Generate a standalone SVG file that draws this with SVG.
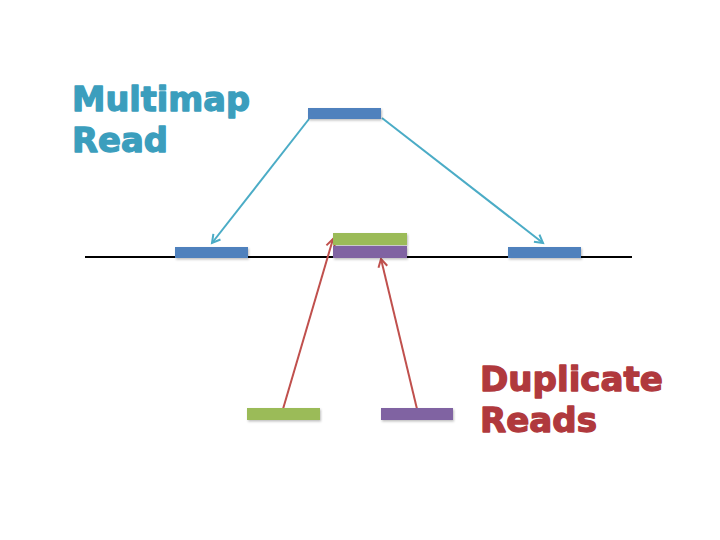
<svg xmlns="http://www.w3.org/2000/svg" width="720" height="540" viewBox="0 0 720 540">
<style>
.lbl{font-family:"DejaVu Sans","Verdana",sans-serif;font-weight:bold;font-size:33px;stroke-width:1.3;stroke-linejoin:round}
.tb{fill:#3b9ebd;stroke:#3b9ebd}
.tr{fill:#b0393d;stroke:#b0393d}
.blue{fill:#4f81bd}
.green{fill:#9bbb59}
.purple{fill:#8064a2}
.ca{fill:none;stroke:#4bacc6;stroke-width:2}
.cr{fill:none;stroke:#c0504d;stroke-width:2}
</style>
<defs>
<filter id="sh" x="-10%" y="-30%" width="120%" height="180%">
<feDropShadow dx="1" dy="1.5" stdDeviation="1" flood-color="#000" flood-opacity="0.25"/>
</filter>
<marker id="ab" markerWidth="12" markerHeight="12" refX="9" refY="6" orient="auto" markerUnits="userSpaceOnUse">
<path d="M1,1.5 L9,6 L1,10.5" fill="none" stroke="#4bacc6" stroke-width="2"/>
</marker>
<marker id="ar" markerWidth="12" markerHeight="12" refX="9" refY="6" orient="auto" markerUnits="userSpaceOnUse">
<path d="M1,1.5 L9,6 L1,10.5" fill="none" stroke="#c0504d" stroke-width="2"/>
</marker>
</defs>
<rect width="720" height="540" fill="#fff"/>
<line x1="85" y1="257" x2="632" y2="257" stroke="#000" stroke-width="2"/>
<g id="connectors">
<line class="ca" x1="309" y1="119" x2="212" y2="243" marker-end="url(#ab)"/>
<line class="ca" x1="382" y1="118" x2="543" y2="243" marker-end="url(#ab)"/>
<line class="cr" x1="283" y1="409" x2="333" y2="239" marker-end="url(#ar)"/>
<line class="cr" x1="417" y1="409" x2="381" y2="259" marker-end="url(#ar)"/>
</g>
<g id="multimap-read"><rect class="blue" x="308" y="108" width="73" height="11" filter="url(#sh)"/></g>
<g id="left-hit"><rect class="blue" x="175" y="247" width="73" height="11" filter="url(#sh)"/></g>
<g id="right-hit"><rect class="blue" x="508" y="247" width="73" height="11" filter="url(#sh)"/></g>
<g id="dup-green-mapped"><rect class="green" x="333" y="233" width="74" height="12" filter="url(#sh)"/></g>
<g id="dup-purple-mapped"><rect class="purple" x="333" y="246" width="74" height="12" filter="url(#sh)"/></g>
<g id="dup-green"><rect class="green" x="247" y="408" width="73" height="12" filter="url(#sh)"/></g>
<g id="dup-purple"><rect class="purple" x="381" y="408" width="72" height="12" filter="url(#sh)"/></g>
<g id="label-multimap">
<text class="lbl tb" x="72" y="111" textLength="178" lengthAdjust="spacingAndGlyphs">Multimap</text>
<text class="lbl tb" x="72" y="152" textLength="96" lengthAdjust="spacingAndGlyphs">Read</text>
</g>
<g id="label-duplicate">
<text class="lbl tr" x="480" y="391" textLength="183" lengthAdjust="spacingAndGlyphs">Duplicate</text>
<text class="lbl tr" x="480" y="432" textLength="117" lengthAdjust="spacingAndGlyphs">Reads</text>
</g>
</svg>
